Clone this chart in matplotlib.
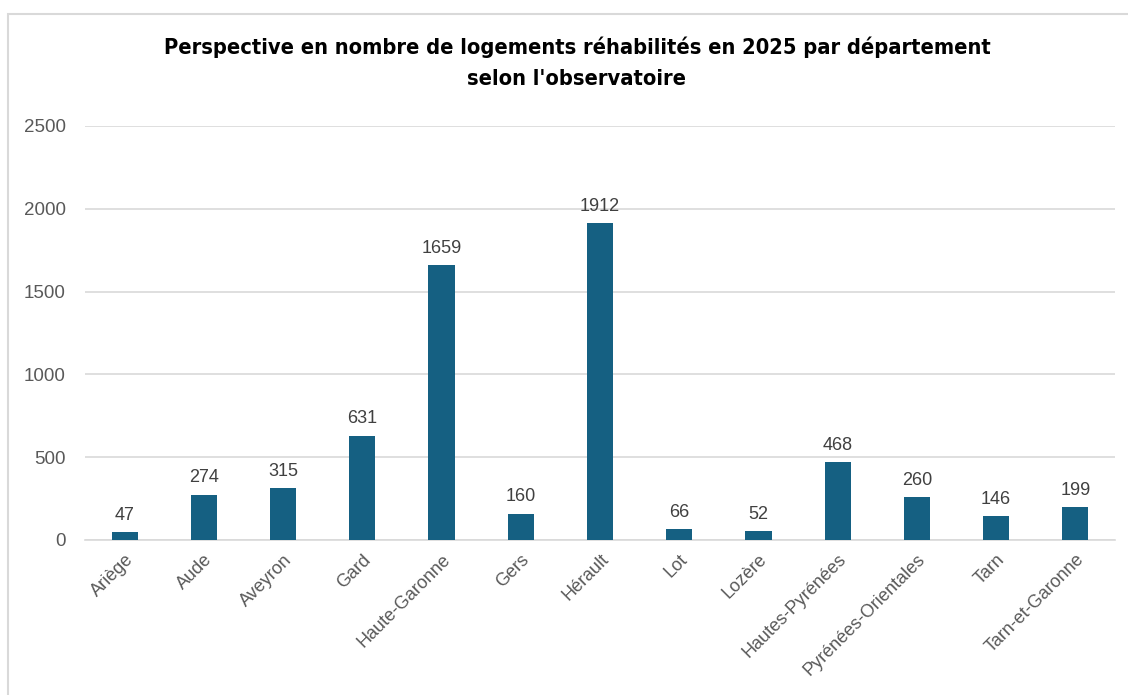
import matplotlib.pyplot as plt
from matplotlib.patches import Rectangle
from matplotlib import font_manager

departements = ['Ariège', 'Aude', 'Aveyron', 'Gard', 'Haute-Garonne', 'Gers', 'Hérault',
                'Lot', 'Lozère', 'Hautes-Pyrénées', 'Pyrénées-Orientales', 'Tarn', 'Tarn-et-Garonne']
logements = [47, 274, 315, 631, 1659, 160, 1912, 66, 52, 468, 260, 146, 199]
y_ticks = [0, 500, 1000, 1500, 2000, 2500]

titre = "Perspective en nombre de logements réhabilités en 2025 par département\nselon l'observatoire"

# police etroite en gras pour le titre si on en trouve une
narrow = [f for f in font_manager.fontManager.ttflist
          if f.weight in ('bold', 700) and (f.stretch in ('condensed', 'semi-condensed')
                                            or 'Narrow' in f.name or 'Condensed' in f.name)]
if narrow:
    title_prop = font_manager.FontProperties(fname=narrow[0].fname, size=15.7)
else:
    title_prop = font_manager.FontProperties(family='Roboto', weight='bold', size=16.5)

plt.rcParams['font.family'] = ['Liberation Sans', 'DejaVu Sans']

fig = plt.figure(figsize=(11.28, 6.95), dpi=100)
# cadre du graphique (bord gris en haut et a gauche)
fig.patches.append(Rectangle((8 / 1128, -0.1), 1.2, 1 - 14 / 695 + 0.1, transform=fig.transFigure,
                             fill=False, edgecolor='#d9d9d9', linewidth=1.5))

ax = fig.add_axes([85 / 1128, 1 - 540 / 695, (1115 - 85) / 1128, (540 - 126) / 695])
x = range(len(departements))
ax.bar(x, logements, width=0.33, color='#156082', zorder=3)
for xi, v in zip(x, logements):
    ax.text(xi, v + 50, str(v), ha='center', va='bottom', fontsize=13, color='#404040')

ax.set_xlim(-0.5, len(departements) - 0.5)
ax.set_ylim(0, 2500)
ax.set_yticks(y_ticks)
ax.set_yticklabels([str(t) for t in y_ticks], fontsize=13.5, color='#595959')
ax.set_xticks(list(x))
ax.set_xticklabels(departements, rotation=45, ha='right', rotation_mode='anchor',
                   fontsize=13, color='#595959')
ax.tick_params(axis='both', length=0)
ax.tick_params(axis='y', pad=14)
ax.tick_params(axis='x', pad=8)
ax.grid(axis='y', color='#d9d9d9', linewidth=1.2, zorder=0)
for s in ['top', 'right', 'left']:
    ax.spines[s].set_visible(False)
ax.spines['bottom'].set_color('#d9d9d9')
ax.spines['bottom'].set_linewidth(1.2)

fig.text(577 / 1128, 1 - 63 / 695, titre, ha='center', va='center',
         fontproperties=title_prop, linespacing=1.68, color='black')

fig.savefig('out.png', dpi=100, facecolor='white')
